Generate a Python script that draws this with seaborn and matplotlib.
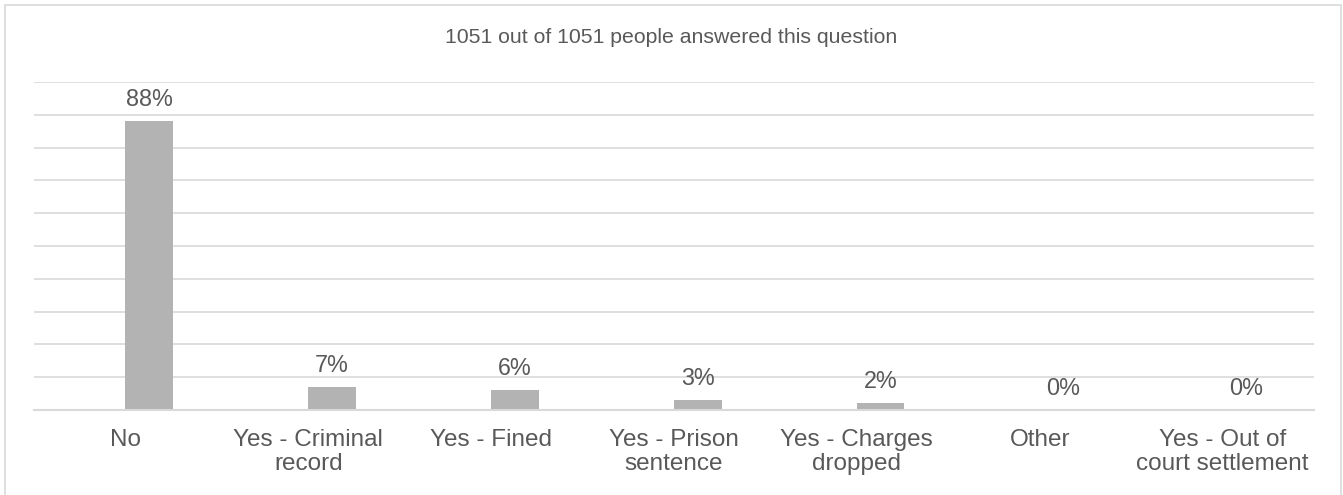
import numpy as np
import pandas as pd
import seaborn as sns
import matplotlib.pyplot as plt
from matplotlib.patches import Rectangle

# data
categories = ["No", "Yes - Criminal record", "Yes - Fined", "Yes - Prison sentence",
              "Yes - Charges dropped", "Other", "Yes - Out of court settlement"]
tick_labels = ["No", "Yes - Criminal\nrecord", "Yes - Fined", "Yes - Prison\nsentence",
               "Yes - Charges\ndropped", "Other", "Yes - Out of\ncourt settlement"]
percent = [88, 7, 6, 3, 2, 0, 0]
title = "1051 out of 1051 people answered this question"

TEXT = "#595959"
GRID = "#d9d9d9"
BAR = "#b3b3b3"


def build_frame():
    # Excel style clustered chart: an empty first series pushes the bar right
    blank = pd.DataFrame({"answer": categories, "pct": [0] * len(categories), "series": "blank"})
    share = pd.DataFrame({"answer": categories, "pct": percent, "series": "share"})
    return pd.concat([blank, share], ignore_index=True)


def main():
    sns.set_theme(style="white")
    plt.rcParams["font.family"] = ["Liberation Sans", "DejaVu Sans"]

    df = build_frame()
    fig = plt.figure(figsize=(13.43, 4.95), dpi=100)
    ax = fig.add_axes([0.0253, 0.1717, 0.9531, 0.6626])

    sns.barplot(data=df, x="answer", y="pct", hue="series", hue_order=["blank", "share"],
                order=categories, palette={"blank": BAR, "share": BAR},
                width=0.52, linewidth=0, legend=False, ax=ax)

    ax.bar_label(ax.containers[1], labels=[f"{v}%" for v in percent],
                 padding=7.5, fontsize=16.8, color=TEXT)

    ax.set_ylim(0, 100)
    ax.set_yticks(np.arange(0, 101, 10))
    ax.yaxis.grid(True, color=GRID, linewidth=1.2)
    ax.set_axisbelow(True)
    ax.tick_params(axis="y", left=False, labelleft=False)
    ax.set_xticks(range(len(categories)))
    ax.set_xticklabels(tick_labels, fontsize=17.5, color=TEXT, linespacing=1.1)
    ax.tick_params(axis="x", bottom=False, pad=8)
    ax.set_xlabel("")
    ax.set_ylabel("")
    for side in ["left", "right", "top"]:
        ax.spines[side].set_visible(False)
    ax.spines["bottom"].set_color(GRID)
    ax.spines["bottom"].set_linewidth(1.5)

    fig.text(0.5, 0.925, title, ha="center", va="center", fontsize=15.3, color=TEXT)

    # light frame round the chart area
    fig.patches.append(Rectangle((0.004, -0.01), 0.9945, 0.9999, transform=fig.transFigure,
                                 fill=False, edgecolor=GRID, linewidth=1.2))

    fig.savefig("out.png", dpi=100, facecolor="white")


if __name__ == "__main__":
    main()
